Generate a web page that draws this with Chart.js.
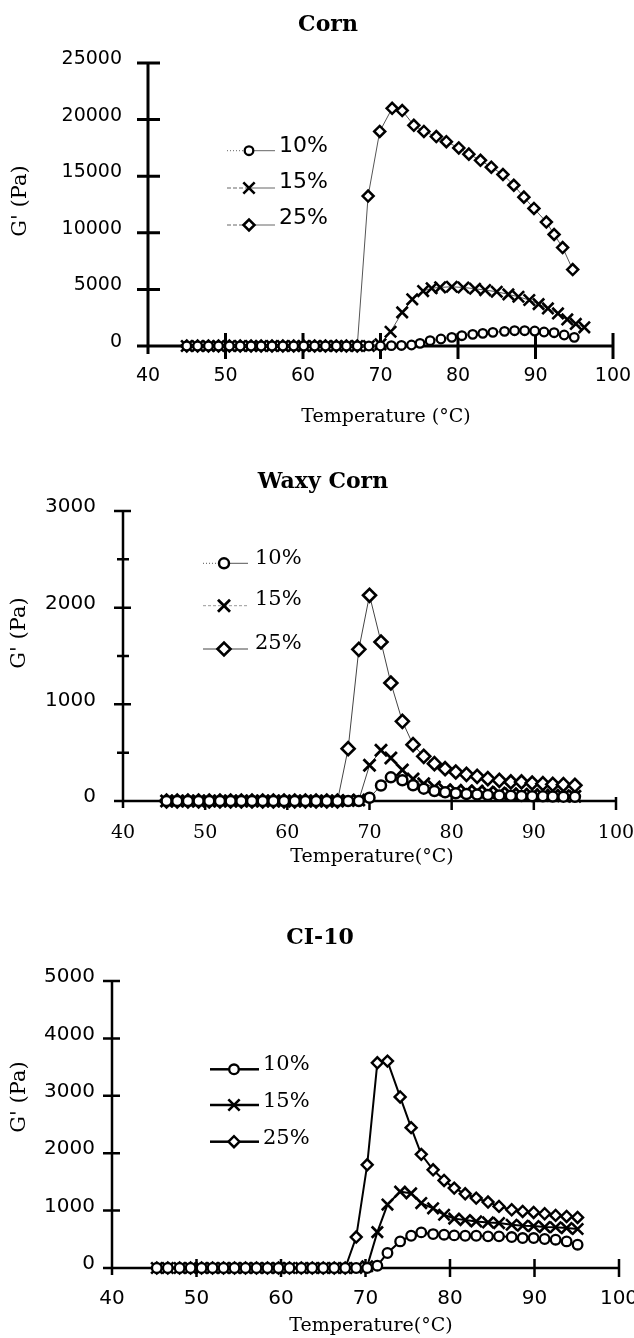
<!DOCTYPE html>
<html lang="en">
<head>
<meta charset="UTF-8">
<title>G' vs Temperature: Corn, Waxy Corn, CI-10</title>
<script src="https://cdn.jsdelivr.net/npm/chart.js"></script>
<style>
  html, body { margin: 0; padding: 0; background: #fff; overflow: hidden; }
  canvas { position: absolute; left: 0; }
</style>
</head>
<body>
<canvas id="corn" style="top:0px" width="660" height="440"></canvas>
<canvas id="waxy" style="top:440px" width="660" height="430"></canvas>
<canvas id="ci10" style="top:870px" width="660" height="468"></canvas>
<script>
// ---- data (temperature in degC, G' in Pa) ----
const seriesLabels = ['10%', '15%', '25%'];
const tempTicks = [40, 50, 60, 70, 80, 90, 100];

// Corn
const cornTicks = [0, 5000, 10000, 15000, 20000, 25000];
const cornTemp10 = [45.0, 46.4, 47.8, 49.1, 50.5, 51.9, 53.3, 54.6, 56.0, 57.4, 58.8, 60.1, 61.5, 62.9, 64.3, 65.6, 67.0, 68.5, 70.0,
  71.4, 72.7, 74.0, 75.1, 76.4, 77.8, 79.2, 80.5, 81.9, 83.2, 84.5, 86.0, 87.3, 88.6, 89.9, 91.1, 92.4, 93.7, 95.0];
const cornG10 = [0, 0, 0, 0, 0, 0, 0, 0, 0, 0, 0, 0, 0, 0, 0, 0, 0, 0, 0,
  30, 50, 90, 235, 470, 617, 764, 911, 1029, 1117, 1205, 1294, 1352, 1352, 1323, 1235, 1176, 970, 764];
const cornTemp15 = [45.0, 46.4, 47.8, 49.1, 50.5, 51.9, 53.3, 54.6, 56.0, 57.4, 58.8, 60.1, 61.5, 62.9, 64.3, 65.6, 67.0, 68.5,
  70.0, 71.3, 72.8, 74.1, 75.5, 76.6, 77.7, 79.2, 80.7, 82.2, 83.5, 85.0, 86.5, 87.8, 89.2, 90.4, 91.6, 92.9, 94.1, 95.2, 96.3];
const cornG15 = [0, 0, 0, 0, 0, 0, 0, 0, 0, 0, 0, 0, 0, 0, 0, 0, 0, 0,
  150, 1260, 2970, 4120, 4850, 5100, 5180, 5230, 5170, 5060, 4940, 4790, 4560, 4350, 4060, 3700, 3320, 2880, 2350, 1950, 1650];
const cornTemp25 = [45.0, 46.4, 47.8, 49.1, 50.5, 51.9, 53.3, 54.6, 56.0, 57.4, 58.8, 60.1, 61.5, 62.9, 64.3, 65.6, 67.0,
  68.4, 69.9, 71.5, 72.8, 74.3, 75.6, 77.2, 78.5, 80.1, 81.4, 82.9, 84.3, 85.8, 87.2, 88.5, 89.8, 91.4, 92.4, 93.5, 94.8];
const cornG25 = [0, 0, 0, 0, 0, 0, 0, 0, 0, 0, 0, 0, 0, 0, 0, 0, 0,
  13250, 18950, 21000, 20800, 19500, 18950, 18500, 18050, 17500, 16950, 16400, 15800, 15150, 14200, 13150, 12150, 10950, 9850, 8700, 6750];

// Waxy Corn
const waxyTicks = [0, 1000, 2000, 3000];
const waxyMinor = [500, 1500, 2500];
const waxyTemp = [45.3, 46.6, 47.9, 49.2, 50.5, 51.8, 53.1, 54.4, 55.7, 57.0, 58.3, 59.6, 60.9, 62.2, 63.5, 64.8, 66.1,
  67.4, 68.7, 70.0, 71.4, 72.6, 74.0, 75.3, 76.6, 77.9, 79.2, 80.5, 81.8, 83.1, 84.4, 85.8, 87.2, 88.5, 89.8, 91.1, 92.3, 93.6, 95.0];
const waxyG10 = [0, 0, 0, 0, 0, 0, 0, 0, 0, 0, 0, 0, 0, 0, 0, 0, 0, 0, 0,
  34, 160, 245, 215, 162, 128, 103, 90, 80, 72, 66, 62, 58, 55, 52, 50, 48, 46, 45, 43];
const waxyG15 = [0, 0, 0, 0, 0, 0, 0, 0, 0, 0, 0, 0, 0, 0, 0, 0, 0,
  5, 10, 370, 525, 445, 320, 228, 179, 145, 117, 110, 103, 103, 93, 83, 76, 69, 66, 59, 59, 55, 48];
const waxyG25 = [0, 0, 0, 0, 0, 0, 0, 0, 0, 0, 0, 0, 0, 0, 0, 0, 0,
  541, 1569, 2128, 1645, 1221, 824, 583, 462, 386, 334, 300, 276, 255, 231, 214, 197, 197, 186, 179, 172, 169, 162];

// CI-10
const ciTicks = [0, 1000, 2000, 3000, 4000, 5000];
const ciTemp = [45.3, 46.6, 48.0, 49.3, 50.6, 51.9, 53.2, 54.5, 55.8, 57.1, 58.4, 59.7, 61.0, 62.4, 63.7, 65.0, 66.3, 67.6,
  68.9, 70.2, 71.4, 72.6, 74.1, 75.4, 76.6, 78.0, 79.3, 80.5, 81.8, 83.1, 84.5, 85.8, 87.3, 88.6, 89.9, 91.2, 92.5, 93.8, 95.1];
const ciG10 = [0, 0, 0, 0, 0, 0, 0, 0, 0, 0, 0, 0, 0, 0, 0, 0, 0, 0, 0, 0,
  40, 261, 463, 562, 620, 591, 580, 568, 562, 562, 551, 551, 539, 522, 522, 505, 493, 463, 406];
const ciG15 = [0, 0, 0, 0, 0, 0, 0, 0, 0, 0, 0, 0, 0, 0, 0, 0, 0, 0, 0,
  30, 625, 1105, 1330, 1300, 1131, 1040, 928, 860, 835, 811, 794, 783, 754, 736, 730, 713, 710, 696, 679];
const ciG25 = [0, 0, 0, 0, 0, 0, 0, 0, 0, 0, 0, 0, 0, 0, 0, 0, 0, 0,
  539, 1798, 3575, 3605, 2980, 2445, 1980, 1711, 1525, 1392, 1293, 1218, 1149, 1073, 1015, 985, 968, 945, 916, 898, 881];

// ---- drawing ----
const SANS = 'DejaVu Sans', SERIF = 'DejaVu Serif';
const CANVAS_W = 660;
const X_AXIS_H = 60;
Chart.defaults.font.family = SANS;
Chart.defaults.color = '#000';

const styles = ['circle', 'crossRot', 'rectRot'];

function drawMarker(ctx, style, x, y, r) {
  ctx.beginPath();
  if (style === 'circle') {
    ctx.arc(x, y, r, 0, Math.PI * 2);
  } else if (style === 'rectRot') {
    ctx.moveTo(x - r, y); ctx.lineTo(x, y - r); ctx.lineTo(x + r, y); ctx.lineTo(x, y + r); ctx.closePath();
  } else {
    const d = r * Math.SQRT1_2;
    ctx.moveTo(x - d, y - d); ctx.lineTo(x + d, y + d);
    ctx.moveTo(x + d, y - d); ctx.lineTo(x - d, y + d);
  }
  if (style !== 'crossRot') ctx.fill();
  ctx.stroke();
}

function text(ctx, str, x, y, font, rot) {
  ctx.save();
  ctx.translate(x, y);
  if (rot) ctx.rotate(rot);
  ctx.font = font;
  ctx.fillStyle = '#000';
  ctx.textAlign = 'center';
  ctx.textBaseline = 'middle';
  ctx.fillText(str, 0, 0);
  ctx.restore();
}

function figurePlugin(p) {
  return {
    id: 'figure',
    beforeDatasetsDraw(chart) {
      const { ctx, scales: { x, y } } = chart;
      const ax = x.getPixelForValue(40), ay = y.getPixelForValue(0);
      ctx.save();
      ctx.strokeStyle = '#000';
      ctx.lineWidth = p.axis.width;
      ctx.beginPath();
      ctx.moveTo(ax, y.getPixelForValue(y.max) - 1);
      ctx.lineTo(ax, ay + p.axis.yStub);
      ctx.moveTo(ax - p.axis.xStub, ay);
      ctx.lineTo(x.getPixelForValue(100), ay);
      p.yTicks.forEach(v => {
        const py = y.getPixelForValue(v);
        ctx.moveTo(ax - p.axis.yTick[0], py); ctx.lineTo(ax + p.axis.yTick[1], py);
      });
      (p.yMinor || []).forEach(v => {
        const py = y.getPixelForValue(v);
        ctx.moveTo(ax - p.axis.yMinorTick[0], py); ctx.lineTo(ax + p.axis.yMinorTick[1], py);
      });
      tempTicks.forEach(v => {
        if (v === 40) return;
        const px = x.getPixelForValue(v);
        ctx.moveTo(px, ay - p.axis.xTick[0]); ctx.lineTo(px, ay + p.axis.xTick[1]);
      });
      ctx.stroke();
      ctx.restore();
    },
    afterDatasetsDraw(chart) {
      const { ctx } = chart;
      text(ctx, p.title, p.titlePos[0], p.titlePos[1], 'bold 22px ' + SERIF);
      text(ctx, p.xTitle, p.xTitlePos[0], p.xTitlePos[1], '19px ' + SERIF);
      text(ctx, "G' (Pa)", p.yTitlePos[0], p.yTitlePos[1], '21px ' + SERIF, -Math.PI / 2);

      const L = p.legend;
      p.series.forEach((s, i) => {
        const ly = L.lineY[i];
        ctx.save();
        ctx.strokeStyle = L.color[i];
        ctx.lineWidth = L.width;
        ctx.setLineDash(L.leftDash[i]);
        ctx.beginPath(); ctx.moveTo(L.x0, ly); ctx.lineTo(L.mx, ly); ctx.stroke();
        ctx.setLineDash(L.rightDash[i]);
        ctx.beginPath(); ctx.moveTo(L.mx, ly); ctx.lineTo(L.x1, ly); ctx.stroke();
        ctx.setLineDash([]);
        ctx.strokeStyle = '#000';
        ctx.fillStyle = '#fff';
        ctx.lineWidth = p.markers[i].bw;
        drawMarker(ctx, styles[i], L.mx, ly, p.markers[i].r);
        ctx.font = L.font;
        ctx.fillStyle = '#000';
        ctx.textAlign = 'left';
        ctx.textBaseline = 'middle';
        ctx.fillText(seriesLabels[i], L.tx, L.textY[i]);
        ctx.restore();
      });
    }
  };
}

function makeChart(id, p) {
  const datasets = p.series.map((s, i) => ({
    label: seriesLabels[i],
    data: s.temps.map((t, k) => ({ x: t, y: s.values[k] })),
    borderColor: p.lineColor,
    borderWidth: p.lineWidth,
    pointStyle: styles[i],
    pointRadius: p.markers[i].r,
    pointBorderWidth: p.markers[i].bw,
    pointBorderColor: '#000',
    pointBackgroundColor: '#fff',
    tension: 0,
    fill: false,
    clip: false
  }));
  const a = p.area;
  new Chart(document.getElementById(id), {
    type: 'line',
    data: { datasets },
    options: {
      responsive: false,
      animation: false,
      events: [],
      layout: {
        padding: { left: 0, top: a.top, right: CANVAS_W - a.right, bottom: p.height - a.bottom - X_AXIS_H }
      },
      plugins: { legend: { display: false }, tooltip: { enabled: false }, title: { display: false } },
      scales: {
        x: {
          type: 'linear', min: 40, max: 100,
          afterBuildTicks: s => { s.ticks = tempTicks.map(v => ({ value: v })); },
          afterFit: s => { s.height = X_AXIS_H; },
          grid: { display: false, drawTicks: false },
          border: { display: false },
          ticks: { autoSkip: false, maxRotation: 0, padding: p.xPad, font: p.xFont, color: '#000', callback: v => String(v) }
        },
        y: {
          type: 'linear', min: 0, max: p.yTicks[p.yTicks.length - 1],
          afterBuildTicks: s => { s.ticks = p.yTicks.map(v => ({ value: v })); },
          afterFit: s => { s.width = a.left; },
          grid: { display: false, drawTicks: false },
          border: { display: false },
          ticks: { padding: p.yPad, labelOffset: -4, font: p.yFont, color: '#000', callback: v => String(v) }
        }
      }
    },
    plugins: [figurePlugin(p)]
  });
}

makeChart('corn', {
  height: 440,
  area: { left: 148, right: 613, top: 63, bottom: 346 },
  yTicks: cornTicks,
  series: [
    { temps: cornTemp10, values: cornG10 },
    { temps: cornTemp15, values: cornG15 },
    { temps: cornTemp25, values: cornG25 }
  ],
  lineColor: '#555', lineWidth: 1,
  markers: [{ r: 4.3, bw: 2.3 }, { r: 8, bw: 2.6 }, { r: 5.5, bw: 2.5 }],
  axis: { width: 3, yStub: 8, xStub: 8, yTick: [11, 12], xTick: [13, 13] },
  xPad: 19, yPad: 26, xFont: { family: SANS, size: 19 }, yFont: { family: SANS, size: 19 },
  title: 'Corn', titlePos: [328, 25],
  xTitle: 'Temperature (\u00B0C)', xTitlePos: [386, 417],
  yTitlePos: [21, 201],
  legend: {
    x0: 227, mx: 249, x1: 275, tx: 279,
    lineY: [150.7, 188, 225], textY: [146, 182, 218.5],
    font: '22px ' + SANS, width: 1,
    color: ['#666', '#666', '#666'],
    leftDash: [[1, 2], [4, 2], [4, 2]], rightDash: [[], [], []]
  }
});

makeChart('waxy', {
  height: 430,
  area: { left: 123, right: 616, top: 71, bottom: 361 },
  yTicks: waxyTicks, yMinor: waxyMinor,
  series: [
    { temps: waxyTemp, values: waxyG10 },
    { temps: waxyTemp, values: waxyG15 },
    { temps: waxyTemp, values: waxyG25 }
  ],
  lineColor: '#444', lineWidth: 1,
  markers: [{ r: 5, bw: 2.5 }, { r: 8.5, bw: 2.8 }, { r: 6.5, bw: 2.6 }],
  axis: { width: 2.5, yStub: 7, xStub: 9, yTick: [9, 8], yMinorTick: [6, 6], xTick: [4, 9] },
  xPad: 21, yPad: 27, xFont: { family: SERIF, size: 19 }, yFont: { family: SANS, size: 20 },
  title: 'Waxy Corn', titlePos: [323, 42],
  xTitle: 'Temperature(\u00B0C)', xTitlePos: [372, 417],
  yTitlePos: [20, 193],
  legend: {
    x0: 203, mx: 224, x1: 248, tx: 255,
    lineY: [123.3, 165.7, 209], textY: [118.3, 160, 203.3],
    font: '21px ' + SERIF, width: 1,
    color: ['#555', '#999', '#444'],
    leftDash: [[1, 2], [3, 2], []], rightDash: [[], [3, 2], []]
  }
});

makeChart('ci10', {
  height: 468,
  area: { left: 112, right: 619, top: 111, bottom: 398 },
  yTicks: ciTicks,
  series: [
    { temps: ciTemp, values: ciG10 },
    { temps: ciTemp, values: ciG15 },
    { temps: ciTemp, values: ciG25 }
  ],
  lineColor: '#000', lineWidth: 2,
  markers: [{ r: 4.8, bw: 2.3 }, { r: 8, bw: 2.6 }, { r: 5.5, bw: 2.4 }],
  axis: { width: 2.5, yStub: 7, xStub: 9, yTick: [9, 8], xTick: [9, 9] },
  xPad: 19, yPad: 17, xFont: { family: SANS, size: 20 }, yFont: { family: SANS, size: 20 },
  title: 'CI-10', titlePos: [320, 68],
  xTitle: 'Temperature(\u00B0C)', xTitlePos: [371, 456.5],
  yTitlePos: [20, 227],
  legend: {
    x0: 210, mx: 234, x1: 259, tx: 263,
    lineY: [199.3, 235, 271.7], textY: [195, 231.7, 268.3],
    font: '21px ' + SERIF, width: 2.5,
    color: ['#000', '#000', '#000'],
    leftDash: [[], [], []], rightDash: [[], [], []]
  }
});
</script>
</body>
</html>
